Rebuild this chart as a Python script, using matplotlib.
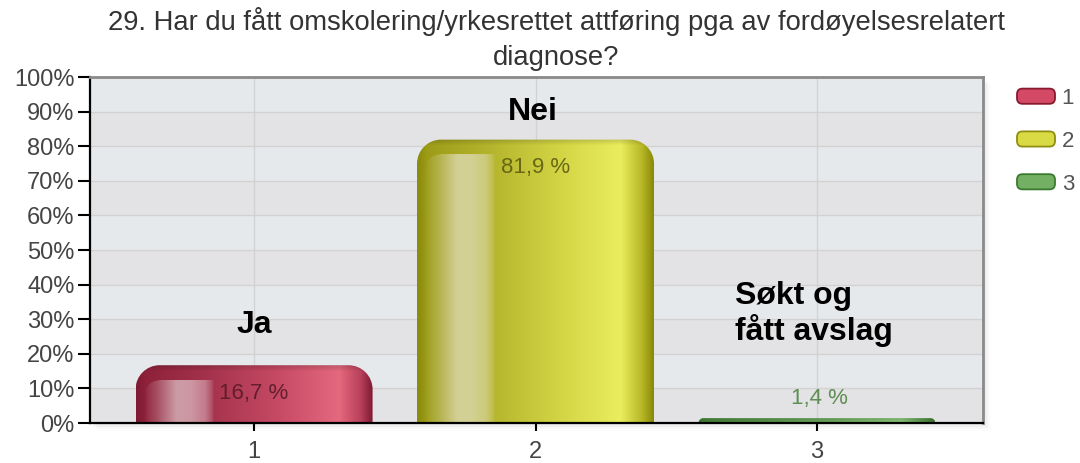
import numpy as np
import matplotlib
matplotlib.use("Agg")
import matplotlib.pyplot as plt
from matplotlib.path import Path
from matplotlib.patches import PathPatch, Patch, Rectangle, FancyBboxPatch
from matplotlib.legend_handler import HandlerPatch
from matplotlib.colors import to_rgb

plt.rcParams['font.family'] = ['Liberation Sans', 'DejaVu Sans']

# ---- data ----
title = "29. Har du fått omskolering/yrkesrettet attføring pga av fordøyelsesrelatert\ndiagnose?"
categories = [1, 2, 3]
values = [16.7, 81.9, 1.4]
legend_labels = ["1", "2", "3"]
annotations = ["Ja", "Nei", "Søkt og\nfått avslag"]
yticks = list(range(0, 101, 10))

# per-bar gradient stops (position, colour)
grad_stops = [
    [(0.0, "#7e1a32"), (0.04, "#8e223a"), (0.30, "#a4324c"), (0.60, "#c64a64"),
     (0.86, "#e4687e"), (0.95, "#b8405a"), (1.0, "#7e1a32")],
    [(0.0, "#8a8a0c"), (0.04, "#9c9c18"), (0.30, "#b4b42c"), (0.60, "#d2d444"),
     (0.86, "#eaee5e"), (0.95, "#b8b828"), (1.0, "#8a8a0a")],
    [(0.0, "#3e7e34"), (0.04, "#4a8a3e"), (0.30, "#5c9c4e"), (0.60, "#74b464"),
     (0.86, "#8ecc7c"), (0.95, "#5c9c4e"), (1.0, "#3e7e34")],
]
value_colors = ["#5a1a2a", "#5e5e10", "#5e8e52"]
legend_face = ["#d44a66", "#dada44", "#74b064"]
legend_edge = ["#8a1a30", "#8e8e10", "#3a7a30"]

W, H = 1080, 463
fig = plt.figure(figsize=(W / 100, H / 100), dpi=100)
fig.patch.set_facecolor("white")

ax_l, ax_r, ax_t, ax_b = 90, 983, 77, 423
ax = fig.add_axes([ax_l / W, 1 - ax_b / H, (ax_r - ax_l) / W, (ax_b - ax_t) / H])
ax.set_zorder(2)

# soft shadow behind plot area
for i, a in enumerate([0.035, 0.03, 0.02, 0.012]):
    off = 2 + i * 2
    fig.patches.append(Rectangle(((ax_l + off) / W, 1 - (ax_b + off) / H),
                                 (ax_r - ax_l) / W, (ax_b - ax_t) / H,
                                 transform=fig.transFigure, facecolor="black",
                                 alpha=a, edgecolor="none", zorder=-5))

ax.set_xlim(0.417, 3.59)
ax.set_ylim(0, 100)
ax.set_facecolor("#e6e9ec")

# alternating bands
for k, y0 in enumerate(yticks[:-1]):
    if k % 2 == 0:
        ax.axhspan(y0, y0 + 10, color="#e3e3e5", zorder=0, lw=0)
for y in yticks[1:-1]:
    ax.axhline(y, color="#d2d2d2", lw=1.0, zorder=1)
for c in categories:
    ax.axvline(c, color="#d2d2d2", lw=1.0, zorder=1)

fig.canvas.draw()
bar_w = 0.842
px_per_x = ax.transData.transform((1, 0))[0] - ax.transData.transform((0, 0))[0]
px_per_y = ax.transData.transform((0, 1))[1] - ax.transData.transform((0, 0))[1]
r_px = 24.0


def rounded_top_path(x0, x1, h, rpx):
    rpx = min(rpx, h * px_per_y)
    rx = rpx / px_per_x
    ry = rpx / px_per_y
    k = 0.5523
    verts = [(x0, 0), (x0, h - ry),
             (x0, h - ry + k * ry), (x0 + rx - k * rx, h), (x0 + rx, h),
             (x1 - rx, h),
             (x1 - rx + k * rx, h), (x1, h - ry + k * ry), (x1, h - ry),
             (x1, 0), (x0, 0)]
    codes = [Path.MOVETO, Path.LINETO,
             Path.CURVE4, Path.CURVE4, Path.CURVE4,
             Path.LINETO,
             Path.CURVE4, Path.CURVE4, Path.CURVE4,
             Path.LINETO, Path.CLOSEPOLY]
    return Path(verts, codes)


def gradient_row(stops, n):
    t = np.linspace(0, 1, n)
    pos = [s[0] for s in stops]
    cols = np.array([to_rgb(s[1]) for s in stops])
    return np.stack([np.interp(t, pos, cols[:, i]) for i in range(3)], axis=1)


for i, (c, v) in enumerate(zip(categories, values)):
    x0, x1 = c - bar_w / 2, c + bar_w / 2
    path = rounded_top_path(x0, x1, v, r_px)
    patch = PathPatch(path, facecolor="none", edgecolor="none", zorder=3)
    ax.add_patch(patch)
    nw = int(round(bar_w * px_per_x))
    nh = max(int(round(v * px_per_y)), 2)
    row = gradient_row(grad_stops[i], nw)
    img = np.repeat(row[None, :, :], nh, axis=0)
    xs = np.arange(nw)[None, :].astype(float)
    ys = np.arange(nh)[:, None].astype(float)
    top_off = 15.0
    hx0 = 0.035 * nw
    if nh > top_off + 6:
        t = np.linspace(0, 1, nw)
        prof = np.interp(t, [0.0, 0.035, 0.045, 0.09, 0.17, 0.23, 0.29, 0.315, 0.33, 1.0],
                         [0.0, 0.0, 0.06, 0.22, 0.58, 0.55, 0.40, 0.20, 0.0, 0.0])
        rr = 14.0
        cx, cy = hx0 + rr, top_off + rr
        inside = np.ones((nh, nw))
        inside[ys[:, 0] < top_off, :] = 0
        corner = (xs < cx) & (ys < cy)
        dist = np.sqrt((xs - cx) ** 2 + (ys - cy) ** 2)
        inside = np.where(corner, np.clip(rr + 0.5 - dist, 0, 1), inside)
        alpha = inside * prof[None, :]
        img = img * (1 - alpha[:, :, None]) + np.array([0.95, 0.93, 0.93]) * alpha[:, :, None]
    rim = np.clip(1 - np.arange(nh) / 6.0, 0, 1)[:, None, None] * 0.15
    img = img * (1 - rim)
    im = ax.imshow(img, extent=[x0, x1, 0, v], origin="upper", aspect="auto",
                   zorder=3, interpolation="bilinear")
    im.set_clip_path(patch)

# value labels
for i, (c, v) in enumerate(zip(categories, values)):
    lab = f"{v:.1f}".replace(".", ",") + " %"
    if v > 10:
        ax.text(c, v - 8.2, lab, ha="center", va="center", fontsize=16,
                color=value_colors[i], alpha=0.9, zorder=5)
    else:
        ax.text(c + 0.01, v + 5.8, lab, ha="center", va="center", fontsize=16,
                color=value_colors[i], zorder=5)

# annotations
ax.text(1.0, 28.3, annotations[0], ha="center", va="center", fontsize=23,
        fontweight="bold", color="black", zorder=6)
ax.text(1.99, 89.9, annotations[1], ha="center", va="center", fontsize=23,
        fontweight="bold", color="black", zorder=6)
ax.text(2.709, 31.5, annotations[2], ha="left", va="center", fontsize=23,
        fontweight="bold", color="black", zorder=6, linespacing=1.1)

# axes styling
ax.set_yticks(yticks)
ax.set_yticklabels([f"{y}%" for y in yticks])
ax.set_xticks(categories)
ax.set_xticklabels([str(c) for c in categories])
ax.tick_params(axis="y", length=9, width=1.5, color="black", labelsize=17,
               labelcolor="#444444", pad=2, direction="out")
ax.tick_params(axis="x", length=6, width=1.5, color="black", labelsize=17,
               labelcolor="#444444", pad=7, direction="out")
ax.spines["left"].set_color("black")
ax.spines["left"].set_linewidth(1.6)
ax.spines["bottom"].set_color("black")
ax.spines["bottom"].set_linewidth(1.6)
ax.spines["top"].set_color("#8a8a8a")
ax.spines["top"].set_linewidth(2)
ax.spines["right"].set_color("#8a8a8a")
ax.spines["right"].set_linewidth(2)
for s in ax.spines.values():
    s.set_zorder(7)

fig.text(0.515, 1 - 39 / H, title, ha="center", va="center", fontsize=19.7,
         color="#333333", linespacing=1.42)


def rounded_box(legend, orig_handle, xdescent, ydescent, width, height, fontsize):
    return FancyBboxPatch((-xdescent, -ydescent), width, height,
                          boxstyle="round,pad=0,rounding_size=4")


handles = [Patch(facecolor=legend_face[i], edgecolor=legend_edge[i], linewidth=1.3)
           for i in range(3)]
fs = 16
fpx = fs * 100 / 72
leg = fig.legend(handles, legend_labels, loc="upper left",
                 bbox_to_anchor=(1017 / W, 1 - 88 / H), frameon=False,
                 fontsize=fs, handlelength=38 / fpx, handleheight=15 / fpx,
                 labelspacing=0.98, handletextpad=0.3, borderpad=0,
                 borderaxespad=0,
                 handler_map={Patch: HandlerPatch(patch_func=rounded_box)})
for t in leg.get_texts():
    t.set_color("#555555")

fig.savefig("out.png", dpi=100)
